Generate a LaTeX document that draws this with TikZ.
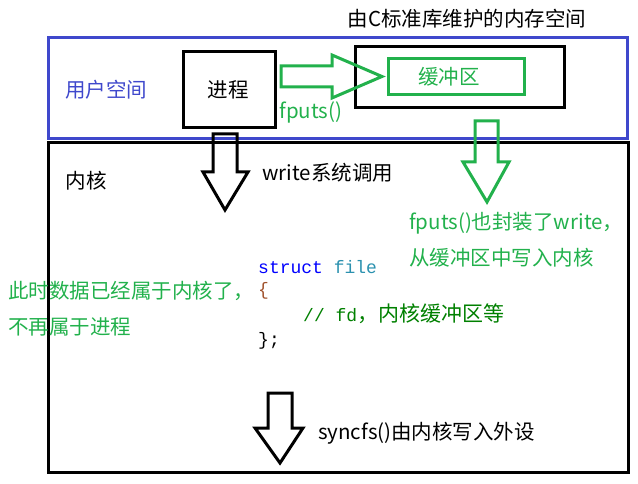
\documentclass[tikz,border=0pt]{standalone}
\usepackage{fontspec}
\setmainfont{Noto Sans CJK SC}
\setmonofont{Liberation Mono}
\newfontfamily\cjk{Noto Sans CJK SC}
\definecolor{paintgreen}{HTML}{22B14C}
\definecolor{paintblue}{HTML}{3F48CC}
\definecolor{codeblue}{HTML}{0000FF}
\definecolor{codeteal}{HTML}{2B91AF}
\definecolor{codegreen}{HTML}{008000}
\definecolor{codebrown}{HTML}{A0522D}
\tikzset{
	labeltext/.style={font=\fontsize{20.5}{24}\selectfont, inner sep=0pt},
	codetext/.style={font=\fontsize{18}{20}\selectfont\ttfamily, inner sep=0pt, anchor=west}
}

\begin{document}
\begin{tikzpicture}[x=1pt, y=-1pt]
			%%%%% START %%%%%
			\useasboundingbox (0,0) rectangle (638,484);
			
			\draw[line width=3pt, color=paintblue] (48, 38) rectangle (627, 139);
			\draw[line width=3pt] (48, 143) rectangle (628, 472);
			
			\draw[line width=3pt] (183, 52) rectangle (275, 128);
			\draw[line width=3pt] (355, 47) rectangle (564, 108);
			\draw[line width=3pt, color=paintgreen] (388, 59) rectangle (524, 95);
			
			\draw[line width=3pt, color=paintgreen] (281, 66) -- (332, 66) -- (332, 55) -- (382, 76.5) -- (332, 98) -- (332, 87) -- (281, 87) -- cycle;
			
			\draw[line width=3pt] (213, 134) -- (237, 134) -- (237, 172) -- (248, 172) -- (225, 210) -- (203, 172) -- (213, 172) -- cycle;
			\draw[line width=3pt, color=paintgreen] (475, 121) -- (498, 121) -- (498, 162) -- (509, 162) -- (487, 202) -- (463, 162) -- (475, 162) -- cycle;
			\draw[line width=3pt] (268, 393) -- (292, 393) -- (292, 428) -- (303, 428) -- (280, 463) -- (255, 428) -- (268, 428) -- cycle;
			
			\node[labeltext] (title) at (467, 19) {由C标准库维护的内存空间};
			\node[labeltext, color=paintblue] (user) at (106, 90) {用户空间};
			\node[labeltext] (proc) at (228, 90) {进程};
			\node[labeltext, color=paintgreen] (buf) at (449, 77) {缓冲区};
			\node[labeltext, color=paintgreen] (fputs) at (311, 112) {fputs()};
			
			\node[labeltext] (kernel) at (86, 181) {内核};
			\node[labeltext, anchor=west] (write) at (262, 173) {write系统调用};
			\node[labeltext, color=paintgreen, anchor=west] (wrap) at (409, 223) {fputs()也封装了write，};
			\node[labeltext, color=paintgreen, anchor=west] (wrapb) at (409, 258) {从缓冲区中写入内核};
			\node[labeltext, color=paintgreen, anchor=west] (owned) at (8, 291) {此时数据已经属于内核了，};
			\node[labeltext, color=paintgreen, anchor=west] (ownedb) at (8, 327) {不再属于进程};
			
			\node[codetext] (decl) at (258, 267) {\textcolor{codeblue}{struct} \textcolor{codeteal}{file}};
			\node[codetext, color=codebrown] (open) at (258, 291) {\{};
			\node[codetext, color=codegreen] (field) at (303, 314) {// fd{\cjk\fontsize{21}{24}\selectfont ，内核缓冲区等}};
			\node[codetext] (close) at (258, 341) {\};};
			
			\node[labeltext, anchor=west] (sync) at (318, 433) {syncfs()由内核写入外设};
			%%%%% END %%%%%
\end{tikzpicture}
\end{document}
